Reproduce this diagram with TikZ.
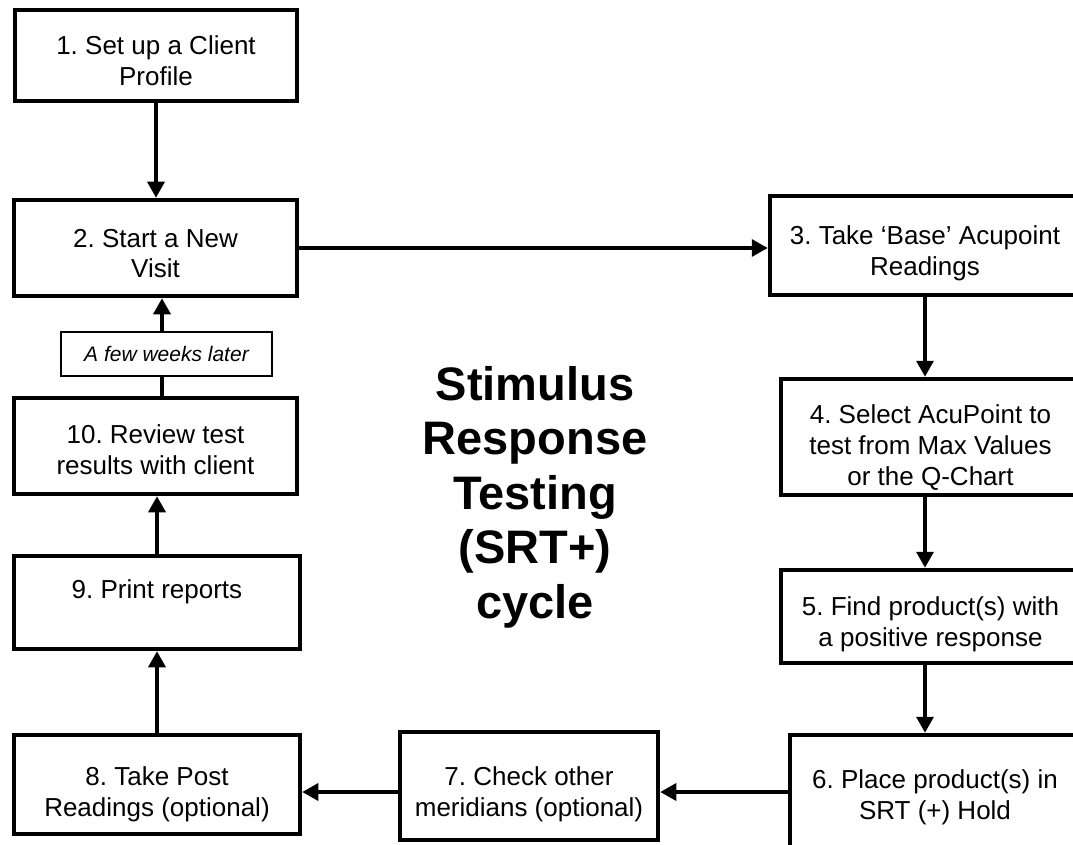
\documentclass[tikz,border=0pt]{standalone}
\usepackage{fontspec}
\setmainfont{Liberation Sans}
\usetikzlibrary{arrows.meta}
\frenchspacing
% #1 width, #2 height, #3 first baseline from top, #4 text
\newcommand\btext[4]{\parbox[c][#2][t]{#1}{\centering\fontsize{26}{31}\selectfont\rule{0pt}{#3}#4\par}}
\begin{document}
\begin{tikzpicture}[x=1pt,y=-1pt,
  stepbox/.style={draw, line width=4.5pt, inner sep=0pt, fill=white},
  conn/.style={line width=3.3pt, -{Triangle[length=16pt,width=17pt]}},
  plainline/.style={line width=3.3pt},
  notebox/.style={draw, line width=1.5pt, inner sep=0pt, fill=white,
    minimum width=211pt, minimum height=44pt, font=\fontsize{21}{25}\selectfont\itshape},
  titletext/.style={align=center, font=\fontsize{47}{54.5}\selectfont\bfseries, inner sep=0pt, anchor=north}]
\useasboundingbox (0,0) rectangle (1073,845);
\clip (0,0) rectangle (1073,845);
\fill[white] (0,0) rectangle (1073,845);

\node[stepbox] (b1) at (156,55.5) {\btext{282pt}{91pt}{45pt}{1. Set up a Client\\Profile}};
\node[stepbox] (b2) at (155.5,248) {\btext{283pt}{96pt}{47pt}{2. Start a New\\Visit}};
\node[stepbox] (b3) at (925,245.5) {\btext{310pt}{99pt}{48pt}{3. Take ‘Base’ Acupoint\\Readings}};
\node[stepbox] (b4) at (930.5,437) {\btext{299pt}{116pt}{44pt}{4. Select AcuPoint to\\test from Max Values\\or the Q-Chart}};
\node[stepbox] (b5) at (930.5,616.5) {\btext{299pt}{93pt}{45pt}{5. Find product(s) with\\a positive response}};
\node[stepbox] (b6) at (935,797.5) {\btext{290pt}{125pt}{53pt}{6. Place product(s) in\\SRT (+) Hold}};
\node[stepbox] (b7) at (529,786) {\btext{258pt}{108pt}{53pt}{7. Check other\\meridians (optional)}};
\node[stepbox] (b8) at (157,784.5) {\btext{286pt}{99pt}{50pt}{8. Take Post\\Readings (optional)}};
\node[stepbox] (b9) at (157,602.5) {\btext{286pt}{93pt}{42pt}{9. Print reports}};
\node[stepbox] (b10) at (155.5,446) {\btext{283pt}{96pt}{45pt}{10. Review test\\results with client}};
\node[notebox] (fw) at (166.5,354) {A few weeks later};
\node[titletext] (title) at (535,366) {Stimulus\\Response\\Testing\\(SRT+)\\cycle};

\coordinate (m67) at (700,792);
\coordinate (mfw) at (162,0);

\draw[conn] (b1.south) -- (b1.south |- b2.north);
\draw[conn] (b2.east) -- (b2.east -| b3.west);
\draw[conn] (b3.south) -- (b3.south |- b4.north);
\draw[conn] (b4.south -| b3.south) -- (b5.north -| b3.south);
\draw[conn] (b5.south -| b3.south) -- (b6.north -| b3.south);
\draw[conn] (b6.west |- m67) -- (b7.east |- m67);
\draw[conn] (b7.west |- m67) -- (b8.east |- m67);
\draw[conn] (b8.north) -- (b8.north |- b9.south);
\draw[conn] (b9.north) -- (b9.north |- b10.south);
\draw[plainline] (b10.north -| mfw) -- (fw.south -| mfw);
\draw[conn] (fw.north -| mfw) -- (b2.south -| mfw);
\end{tikzpicture}
\end{document}
